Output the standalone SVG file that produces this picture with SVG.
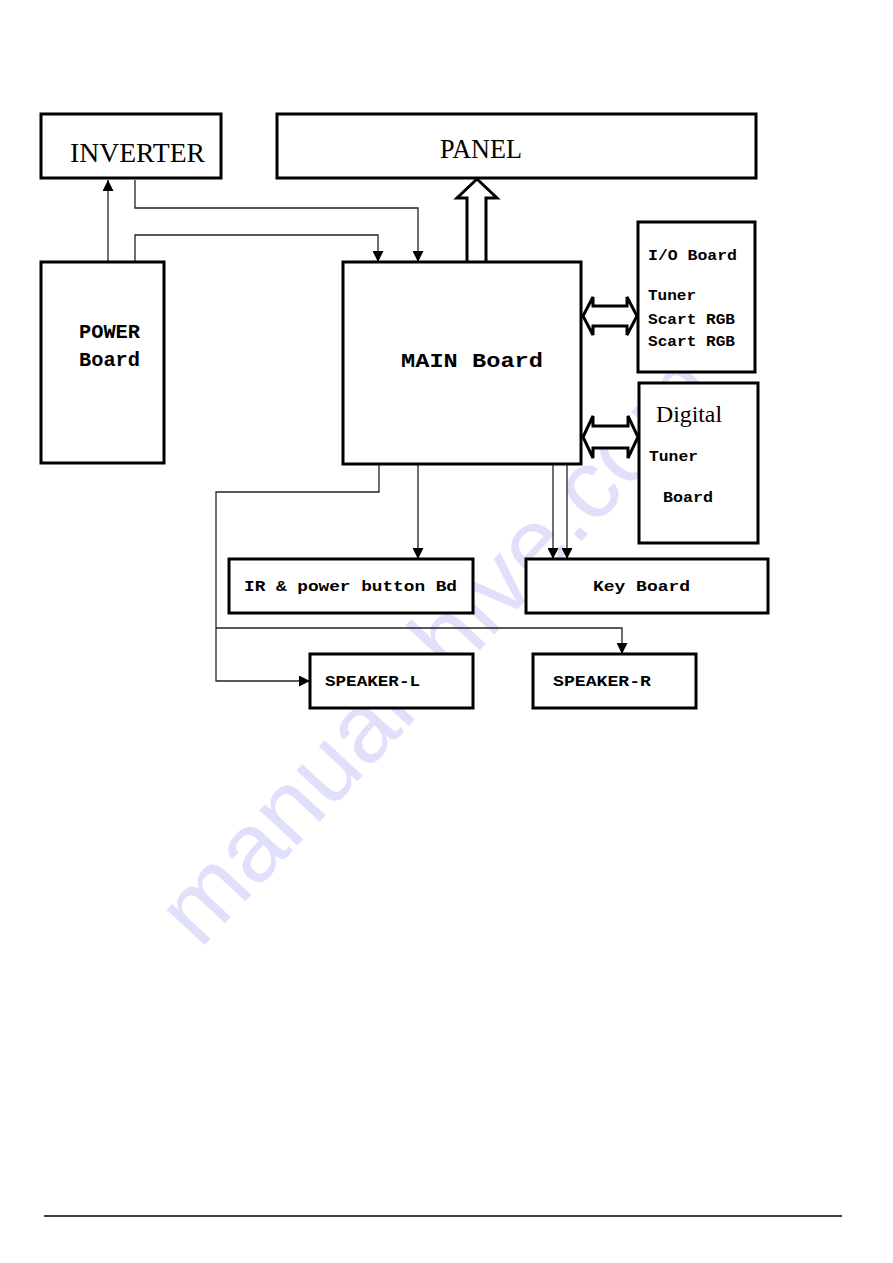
<svg xmlns="http://www.w3.org/2000/svg" width="893" height="1263" viewBox="0 0 893 1263">
<style>
.box{fill:#fff;stroke:#000;stroke-width:3}
.wire{fill:none;stroke:#222;stroke-width:1.3}
.big{stroke:#000;stroke-width:3;fill:#fff;stroke-linejoin:miter}
.t{font-family:"Liberation Mono","Courier New",monospace;fill:#000}
.lg{font-family:"Liberation Serif","Times New Roman",serif;font-size:27px;fill:#000}
.b{font-weight:bold;font-size:15px}
.mb{font-weight:bold;font-size:20px}
.serif{font-family:"Liberation Serif","Times New Roman",serif;font-size:24px;fill:#000}
.wm{font-family:"Liberation Sans",Arial,sans-serif;font-size:98px;fill:#e0e0fa}
</style>
<defs>
<marker id="ah" markerUnits="userSpaceOnUse" markerWidth="11" markerHeight="11" refX="11" refY="5.5" orient="auto">
<path d="M0,0 L11,5.5 L0,11 Z" fill="#000"/>
</marker>
</defs>
<rect width="893" height="1263" fill="#fff"/>
<text class="wm" transform="translate(200,950) rotate(-47)">manualshive.com</text>

<g id="connectors">
<path class="wire" d="M108,262 V180" marker-end="url(#ah)"/>
<path class="wire" d="M135,180 V208 H418 V262" marker-end="url(#ah)"/>
<path class="wire" d="M135,262 V235 H378 V262" marker-end="url(#ah)"/>
<path class="wire" d="M418,464 V559" marker-end="url(#ah)"/>
<path class="wire" d="M553,464 V559" marker-end="url(#ah)"/>
<path class="wire" d="M567,464 V559" marker-end="url(#ah)"/>
<path class="wire" d="M379,464 V492 H216 V681 H310" marker-end="url(#ah)"/>
<path class="wire" d="M216,628 H622 V654" marker-end="url(#ah)"/>
<path class="big" d="M467,262 V198 H457 L477,179 L497,198 H486 V262"/>
<path class="big" d="M583,316 L593,297 V306 H627 V297 L637,316 L627,335 V326 H593 V335 Z"/>
<path class="big" d="M583,437 L593,416 V426 H628 V416 L638,437 L628,458 V448 H593 V458 Z"/>
</g>

<g id="inverter">
<rect class="box" x="41" y="114" width="180" height="64"/>
<text class="lg" x="70" y="162" textLength="135" lengthAdjust="spacingAndGlyphs">INVERTER</text>
</g>
<g id="panel">
<rect class="box" x="277" y="114" width="479" height="64"/>
<text class="lg" x="440" y="158" textLength="82" lengthAdjust="spacingAndGlyphs">PANEL</text>
</g>
<g id="power">
<rect class="box" x="41" y="262" width="123" height="201"/>
<text class="t mb" x="79" y="338" textLength="61" lengthAdjust="spacingAndGlyphs">POWER</text>
<text class="t mb" x="79" y="366" textLength="61" lengthAdjust="spacingAndGlyphs">Board</text>
</g>
<g id="main">
<rect class="box" x="343" y="262" width="238" height="202"/>
<text class="t mb" x="401" y="367" textLength="142" lengthAdjust="spacingAndGlyphs">MAIN Board</text>
</g>
<g id="io">
<rect class="box" x="638" y="222" width="117" height="150"/>
<text class="t b" x="648" y="260" textLength="89" lengthAdjust="spacingAndGlyphs">I/O Board</text>
<text class="t b" x="648" y="300" textLength="48" lengthAdjust="spacingAndGlyphs">Tuner</text>
<text class="t b" x="648" y="324" textLength="87" lengthAdjust="spacingAndGlyphs">Scart RGB</text>
<text class="t b" x="648" y="346" textLength="87" lengthAdjust="spacingAndGlyphs">Scart RGB</text>
</g>
<g id="digital">
<rect class="box" x="639" y="383" width="119" height="160"/>
<text class="serif" x="656" y="422" textLength="66" lengthAdjust="spacingAndGlyphs">Digital</text>
<text class="t b" x="649" y="461" textLength="49" lengthAdjust="spacingAndGlyphs">Tuner</text>
<text class="t b" x="663" y="502" textLength="50" lengthAdjust="spacingAndGlyphs">Board</text>
</g>
<g id="ir">
<rect class="box" x="229" y="559" width="244" height="54"/>
<text class="t b" x="244" y="591" textLength="213" lengthAdjust="spacingAndGlyphs">IR &amp; power button Bd</text>
</g>
<g id="key">
<rect class="box" x="526" y="559" width="242" height="54"/>
<text class="t b" x="593" y="591" textLength="97" lengthAdjust="spacingAndGlyphs">Key Board</text>
</g>
<g id="speaker-l">
<rect class="box" x="310" y="654" width="163" height="54"/>
<text class="t b" x="325" y="686" textLength="95" lengthAdjust="spacingAndGlyphs">SPEAKER-L</text>
</g>
<g id="speaker-r">
<rect class="box" x="533" y="654" width="163" height="54"/>
<text class="t b" x="553" y="686" textLength="98" lengthAdjust="spacingAndGlyphs">SPEAKER-R</text>
</g>
<line x1="44" y1="1216" x2="842" y2="1216" stroke="#000" stroke-width="1.5"/>
</svg>
